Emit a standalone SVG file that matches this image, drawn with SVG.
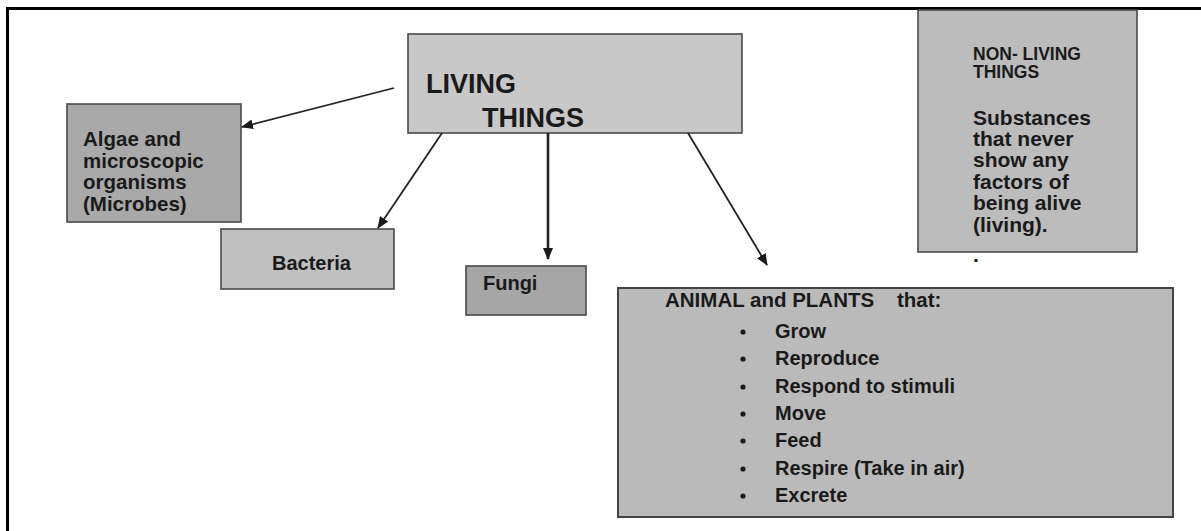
<svg xmlns="http://www.w3.org/2000/svg" width="1201" height="531" viewBox="0 0 1201 531">
<defs>
<marker id="arr" viewBox="0 0 12 10" refX="11" refY="5" markerWidth="12" markerHeight="10" markerUnits="userSpaceOnUse" orient="auto">
<path d="M0,0 L12,5 L0,10 z" fill="#1a1a1a"/>
</marker>
</defs>
<style>
.box{stroke:#4a4a4a;stroke-width:1.6}
.t{font-family:"Liberation Sans",Arial,sans-serif;font-weight:bold;fill:#1a1a1a}
.c{stroke:#222;stroke-width:1.8;fill:none;marker-end:url(#arr)}
</style>
<rect x="0" y="0" width="1201" height="531" fill="#fff"/>
<rect x="7.5" y="8.5" width="1200" height="530" fill="none" stroke="#000" stroke-width="3"/>

<g id="living">
<rect class="box" x="408" y="34" width="334" height="99" fill="#c8c8c8"/>
<text class="t" font-size="27"><tspan x="426" y="93">LIVING</tspan><tspan x="482" y="127">THINGS</tspan></text>
</g>

<g id="algae">
<rect class="box" x="67" y="104" width="174" height="118" fill="#a9a9a9"/>
<text class="t" font-size="20.5"><tspan x="83" y="146">Algae and</tspan><tspan x="83" y="168">microscopic</tspan><tspan x="83" y="189">organisms</tspan><tspan x="83" y="211">(Microbes)</tspan></text>
</g>

<g id="bacteria">
<rect class="box" x="221" y="229" width="173" height="60" fill="#c0c0c0"/>
<text class="t" font-size="20" x="272" y="270">Bacteria</text>
</g>

<g id="fungi">
<rect class="box" x="466" y="266" width="120" height="49" fill="#a6a6a6"/>
<text class="t" font-size="20" x="483" y="290">Fungi</text>
</g>

<g id="nonliving">
<rect class="box" x="918" y="10" width="219" height="242" fill="#bcbcbc"/>
<text class="t" font-size="17.5"><tspan x="973" y="60">NON- LIVING</tspan><tspan x="973" y="78">THINGS</tspan></text>
<text class="t" font-size="21"><tspan x="973" y="125">Substances</tspan><tspan x="973" y="146">that never</tspan><tspan x="973" y="167">show any</tspan><tspan x="973" y="189">factors of</tspan><tspan x="973" y="210">being alive</tspan><tspan x="973" y="232">(living).</tspan></text>
<text class="t" font-size="21" x="973" y="262">.</text>
</g>

<g id="animal">
<rect x="618" y="288" width="555" height="229" fill="#bababa" stroke="#444" stroke-width="2"/>
<text class="t" font-size="20.5" x="665" y="307" xml:space="preserve">ANIMAL and PLANTS    that:</text>
<g fill="#1a1a1a">
<circle cx="743" cy="332" r="2.6"/><circle cx="743" cy="359" r="2.6"/><circle cx="743" cy="387" r="2.6"/><circle cx="743" cy="414" r="2.6"/><circle cx="743" cy="441" r="2.6"/><circle cx="743" cy="469" r="2.6"/><circle cx="743" cy="496" r="2.6"/>
</g>
<text class="t" font-size="20"><tspan x="775" y="338">Grow</tspan><tspan x="775" y="365">Reproduce</tspan><tspan x="775" y="393">Respond to stimuli</tspan><tspan x="775" y="420">Move</tspan><tspan x="775" y="447">Feed</tspan><tspan x="775" y="475">Respire (Take in air)</tspan><tspan x="775" y="502">Excrete</tspan></text>
</g>

<g id="connectors">
<line class="c" x1="394" y1="88" x2="242" y2="127"/>
<line class="c" x1="442" y1="133" x2="378" y2="228"/>
<line class="c" x1="548" y1="133" x2="548" y2="259" style="stroke-width:2.6"/>
<line class="c" x1="688" y1="133" x2="767" y2="265"/>
</g>
</svg>
